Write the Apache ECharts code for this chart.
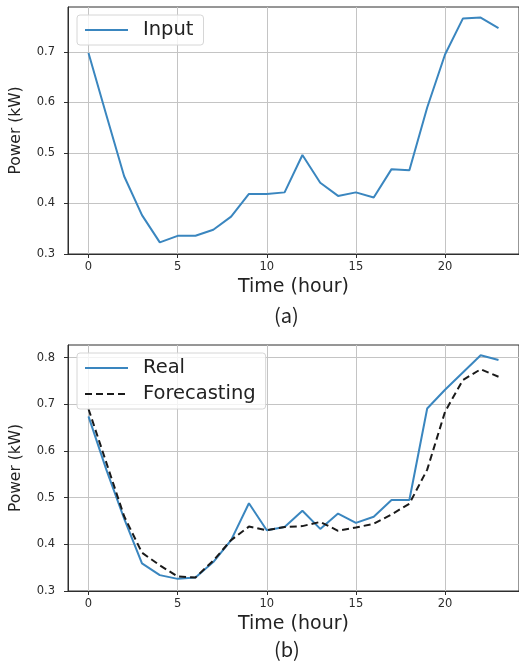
<!DOCTYPE html>
<html>
<head>
<meta charset="utf-8">
<script src="https://cdn.jsdelivr.net/npm/echarts@6/dist/echarts.min.js"></script>
<style>
    html, body { margin: 0; padding: 0; background: #fff; }
    #chart { width: 519px; height: 663px; }
</style>
</head>
<body>
<div id="chart"></div>
<script>
// hours of the day
var hours = [0, 1, 2, 3, 4, 5, 6, 7, 8, 9, 10, 11, 12, 13, 14, 15, 16, 17, 18, 19, 20, 21, 22, 23];

// (a) input load
var inputPower = [0.698, 0.575, 0.454, 0.377, 0.323, 0.336, 0.336, 0.348, 0.374, 0.419, 0.419, 0.422,
    0.496, 0.441, 0.415, 0.422, 0.412, 0.468, 0.466, 0.59, 0.695, 0.766, 0.768, 0.747];

// (b) real vs forecast
var realPower = [0.674, 0.56, 0.455, 0.359, 0.334, 0.326, 0.329, 0.362, 0.409, 0.488, 0.43, 0.437,
    0.472, 0.433, 0.466, 0.446, 0.459, 0.495, 0.495, 0.691, 0.731, 0.768, 0.805, 0.795];
var forecastPower = [0.69, 0.575, 0.46, 0.382, 0.355, 0.331, 0.329, 0.365, 0.409, 0.438, 0.43, 0.437,
    0.439, 0.448, 0.429, 0.436, 0.444, 0.464, 0.487, 0.56, 0.684, 0.752, 0.775, 0.759];

var xTicks = [0, 5, 10, 15, 20];
var yTicksA = [0.3, 0.4, 0.5, 0.6, 0.7];
var yTicksB = [0.3, 0.4, 0.5, 0.6, 0.7, 0.8];

function pairs(vals) {
    return hours.map(function (h, i) { return [h, vals[i]]; });
}

var chart = echarts.init(document.getElementById('chart'), null, { renderer: 'canvas' });

var spine = '#2e2e2e';
var gridCol = '#c4c4c4';
var blue = '#3a86bf';
var font = 'DejaVu Sans';

function xAxisCfg(idx) {
    return {
        type: 'value', gridIndex: idx, min: -1.15, max: 24.15,
        name: 'Time (hour)', nameLocation: 'middle', nameGap: 24,
        nameTextStyle: { fontFamily: font, fontSize: 19, color: '#222' },
        axisLine: { show: true, onZero: false, lineStyle: { color: spine, width: 1 } },
        axisTick: { show: true, customValues: xTicks, length: 4, lineStyle: { color: spine } },
        axisLabel: { customValues: xTicks, margin: 7, fontFamily: font, fontSize: 11.5, color: '#2b2b2b' },
        splitLine: { show: true, lineStyle: { color: gridCol, width: 1 } }
    };
}

function yAxisCfg(idx, maxV, ticks) {
    return {
        type: 'value', gridIndex: idx, min: 0.3, max: maxV,
        name: 'Power (kW)', nameLocation: 'middle', nameGap: 44,
        nameTextStyle: { fontFamily: font, fontSize: 15.5, color: '#222' },
        axisLine: { show: true, onZero: false, lineStyle: { color: spine, width: 1 } },
        axisTick: { show: true, customValues: ticks, length: 4, lineStyle: { color: spine } },
        axisLabel: {
            customValues: ticks, margin: 13, fontFamily: font, fontSize: 11.5, color: '#2b2b2b',
            formatter: function (v) { return v.toFixed(1); }
        },
        splitLine: { show: true, lineStyle: { color: gridCol, width: 1 } }
    };
}

function legendCfg(top, names) {
    return {
        data: names, orient: 'vertical', left: 77, top: top,
        itemStyle: { opacity: 0 },
        padding: [5, 10, 5, 7], itemWidth: 43, itemHeight: 14, itemGap: 6,
        backgroundColor: 'rgba(255,255,255,0.8)', borderColor: '#d6d6d6', borderWidth: 1, borderRadius: 3,
        textStyle: { fontFamily: font, fontSize: 19.5, color: '#222', padding: [0, 0, 0, 10] }
    };
}

var option = {
    backgroundColor: '#fff',
    animation: false,
    grid: [
        { left: 67, top: 7, right: -1, height: 247, show: true, borderColor: spine, borderWidth: 1 },
        { left: 67, top: 345, right: -1, height: 246, show: true, borderColor: spine, borderWidth: 1 }
    ],
    xAxis: [xAxisCfg(0), xAxisCfg(1)],
    yAxis: [yAxisCfg(0, 0.789, yTicksA), yAxisCfg(1, 0.827, yTicksB)],
    legend: [legendCfg(15, ['Input']), legendCfg(353, ['Real', 'Forecasting'])],
    graphic: [
        { type: 'text', left: 274, top: 305, style: { text: '(a)', fontFamily: 'Noto Sans CJK KR', fontSize: 20, fill: '#222' } },
        { type: 'text', left: 274, top: 639, style: { text: '(b)', fontFamily: 'Noto Sans CJK KR', fontSize: 20, fill: '#222' } }
    ],
    series: [
        {
            name: 'Input', type: 'line', xAxisIndex: 0, yAxisIndex: 0,
            data: pairs(inputPower), symbol: 'none', lineStyle: { color: blue, width: 2 }, itemStyle: { color: blue }
        },
        {
            name: 'Real', type: 'line', xAxisIndex: 1, yAxisIndex: 1,
            data: pairs(realPower), symbol: 'none', lineStyle: { color: blue, width: 2 }, itemStyle: { color: blue }
        },
        {
            name: 'Forecasting', type: 'line', xAxisIndex: 1, yAxisIndex: 1,
            data: pairs(forecastPower), symbol: 'none',
            lineStyle: { color: '#1a1a1a', width: 2, type: [7, 4] }, itemStyle: { color: '#1a1a1a' }
        }
    ]
};

chart.setOption(option);
</script>
</body>
</html>
